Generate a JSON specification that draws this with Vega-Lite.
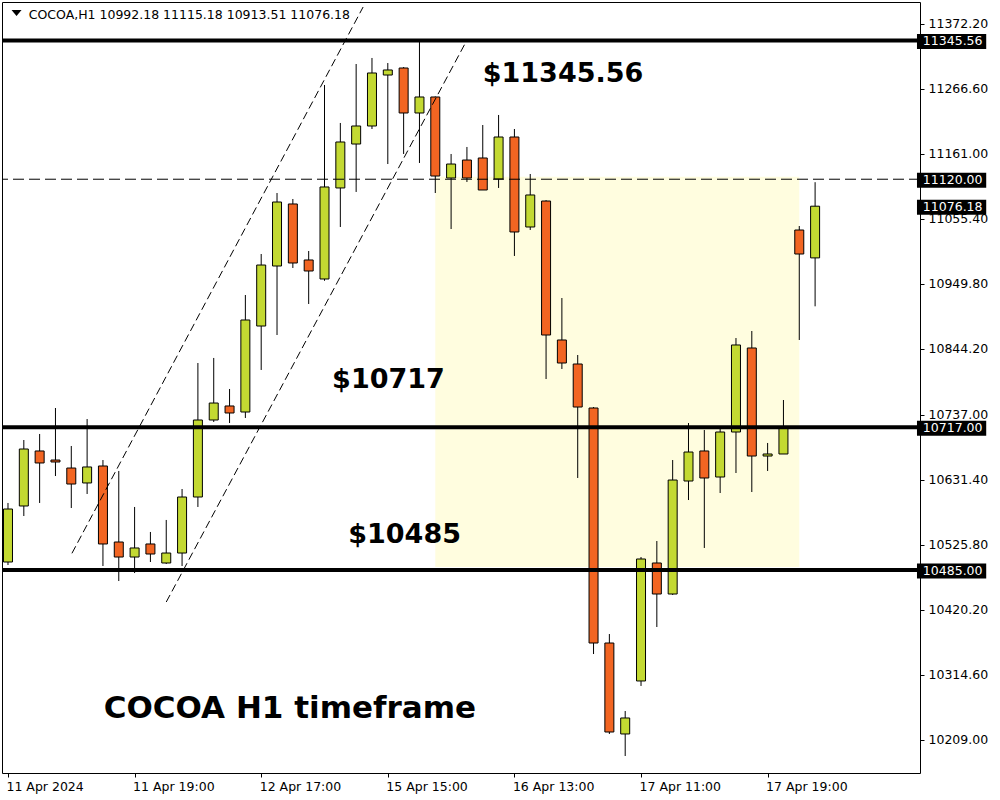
{
  "$schema": "https://vega.github.io/schema/vega-lite/v6.json",
  "autosize": {"type": "none"},
  "width": 918,
  "height": 771,
  "padding": {"left": 2, "top": 2, "right": 80, "bottom": 27},
  "background": "white",
  "config": {
    "view": {"stroke": "black", "strokeWidth": 1},
    "font": "DejaVu Sans"
  },
  "datasets": {
    "bars": [
      {"i":0,"o":10498.1,"h":10594.0,"l":10493.2,"c":10584.2},
      {"i":1,"o":10589.1,"h":10696.3,"l":10572.8,"c":10681.7},
      {"i":2,"o":10678.5,"h":10706.1,"l":10594.0,"c":10659.0},
      {"i":3,"o":10663.8,"h":10748.3,"l":10637.8,"c":10660.6},
      {"i":4,"o":10650.8,"h":10686.6,"l":10585.8,"c":10624.8},
      {"i":5,"o":10626.5,"h":10730.4,"l":10608.6,"c":10652.5},
      {"i":6,"o":10654.1,"h":10663.8,"l":10491.6,"c":10527.4},
      {"i":7,"o":10530.6,"h":10646.0,"l":10467.2,"c":10506.2},
      {"i":8,"o":10506.2,"h":10587.5,"l":10480.2,"c":10520.9},
      {"i":9,"o":10527.4,"h":10546.9,"l":10498.1,"c":10511.1},
      {"i":10,"o":10496.5,"h":10566.4,"l":10494.9,"c":10512.7},
      {"i":11,"o":10512.7,"h":10616.7,"l":10491.6,"c":10603.7},
      {"i":12,"o":10603.7,"h":10821.4,"l":10587.5,"c":10728.8},
      {"i":13,"o":10728.8,"h":10829.6,"l":10725.6,"c":10756.4},
      {"i":14,"o":10751.6,"h":10779.2,"l":10723.9,"c":10740.2},
      {"i":15,"o":10741.8,"h":10931.9,"l":10732.1,"c":10891.3},
      {"i":16,"o":10881.5,"h":10998.5,"l":10810.1,"c":10980.6},
      {"i":17,"o":10979.0,"h":11097.6,"l":10866.9,"c":11083.0},
      {"i":18,"o":11079.8,"h":11087.9,"l":10975.8,"c":10983.9},
      {"i":19,"o":10988.8,"h":11003.4,"l":10917.3,"c":10970.9},
      {"i":20,"o":10957.9,"h":11273.1,"l":10955.0,"c":11107.4},
      {"i":21,"o":11105.8,"h":11211.4,"l":11042.4,"c":11180.5},
      {"i":22,"o":11177.2,"h":11307.2,"l":11099.3,"c":11206.5},
      {"i":23,"o":11206.5,"h":11317.0,"l":11201.6,"c":11292.6},
      {"i":24,"o":11289.3,"h":11308.8,"l":11144.7,"c":11297.5},
      {"i":25,"o":11300.7,"h":11302.3,"l":11161.0,"c":11227.6},
      {"i":26,"o":11227.6,"h":11345.56,"l":11146.4,"c":11253.6},
      {"i":27,"o":11253.6,"h":11254.5,"l":11097.6,"c":11125.2},
      {"i":28,"o":11122.0,"h":11161.0,"l":11039.1,"c":11144.7},
      {"i":29,"o":11151.2,"h":11172.4,"l":11115.5,"c":11122.0},
      {"i":30,"o":11154.5,"h":11208.1,"l":11102.5,"c":11102.5},
      {"i":31,"o":11120.4,"h":11224.4,"l":11105.8,"c":11188.6},
      {"i":32,"o":11188.6,"h":11201.6,"l":10995.3,"c":11034.3},
      {"i":33,"o":11042.4,"h":11128.5,"l":11037.5,"c":11094.4},
      {"i":34,"o":11084.6,"h":11086.0,"l":10795.4,"c":10866.9},
      {"i":35,"o":10858.8,"h":10927.0,"l":10811.7,"c":10821.4},
      {"i":36,"o":10819.8,"h":10834.4,"l":10634.6,"c":10749.9},
      {"i":37,"o":10748.3,"h":10749.9,"l":10348.6,"c":10366.5},
      {"i":38,"o":10366.5,"h":10381.1,"l":10218.7,"c":10221.9},
      {"i":39,"o":10218.7,"h":10256.0,"l":10182.9,"c":10244.7},
      {"i":40,"o":10304.8,"h":10506.2,"l":10296.7,"c":10503.0},
      {"i":41,"o":10496.5,"h":10532.2,"l":10392.5,"c":10446.1},
      {"i":42,"o":10446.1,"h":10663.8,"l":10444.5,"c":10631.3},
      {"i":43,"o":10629.7,"h":10723.9,"l":10598.8,"c":10676.8},
      {"i":44,"o":10678.5,"h":10712.6,"l":10520.9,"c":10634.6},
      {"i":45,"o":10636.2,"h":10715.8,"l":10610.2,"c":10709.3},
      {"i":46,"o":10709.3,"h":10862.0,"l":10642.7,"c":10850.7},
      {"i":47,"o":10845.8,"h":10873.4,"l":10611.8,"c":10670.3},
      {"i":48,"o":10670.3,"h":10691.5,"l":10646.0,"c":10673.6},
      {"i":49,"o":10673.6,"h":10761.3,"l":10673.6,"c":10715.8},
      {"i":50,"o":11037.5,"h":11044.0,"l":10858.8,"c":10998.5},
      {"i":51,"o":10992.18,"h":11115.18,"l":10913.51,"c":11076.18}
    ],
    "zone": [{"i0": 27, "i1": 50, "v0": 11124, "v1": 10490}],
    "chan": [
      {"ch": "a", "i": 4.04, "v": 10512.2},
      {"ch": "a", "i": 22.44, "v": 11399.8},
      {"ch": "b", "i": 10.0, "v": 10433.1},
      {"ch": "b", "i": 28.98, "v": 11345.1}
    ],
    "thick": [{"p": 11345.56}, {"p": 10717}, {"p": 10485}],
    "dashed": [{"p": 11120}],
    "ann": [
      {"label": "$11345.56", "i": 30.0, "v": 11278},
      {"label": "$10717", "i": 20.48, "v": 10780.8},
      {"label": "$10485", "i": 21.5, "v": 10529}
    ],
    "title": [{"label": "COCOA H1 timeframe", "i": 6.05, "v": 10244.7}],
    "header": [{"label": "COCOA,H1  10992.18 11115.18 10913.51 11076.18", "i": 1.31, "v": 11380.3}],
    "marker": [{"i": 0.54, "v": 11390.07}],
    "tags": [{"p": 11345.56}, {"p": 11120}, {"p": 11076.18}, {"p": 10717}, {"p": 10485}]
  },
  "layer": [
    {
      "data": {"name": "zone"},
      "mark": {"type": "rect", "color": "#FFFDDF"},
      "encoding": {
        "x": {"field": "i0", "type": "quantitative", "title": null,
          "scale": {"domain": [-0.0625, 57.3125], "nice": false, "zero": false},
          "axis": {
            "values": [0, 8, 16, 24, 32, 40, 48],
            "labelExpr": "['11 Apr 2024','11 Apr 19:00','12 Apr 17:00','15 Apr 15:00','16 Apr 13:00','17 Apr 11:00','17 Apr 19:00'][round(datum.value/8)]",
            "title": null, "domain": false, "grid": false,
            "tickSize": 4, "tickColor": "black", "tickWidth": 1,
            "labelAlign": "left", "labelBaseline": "top", "labelFlush": false, "labelOverlap": false,
            "labelPadding": 3, "labelOffset": -2, "labelFont": "DejaVu Sans", "labelFontSize": 12.5, "labelColor": "black"
          }
        },
        "x2": {"field": "i1"},
        "y": {"field": "v0", "type": "quantitative", "title": null,
          "scale": {"domain": [10155.3, 11407.94], "nice": false, "zero": false},
          "axis": {
            "orient": "right",
            "values": [11372.2, 11266.6, 11161, 11055.4, 10949.8, 10844.2, 10737, 10631.4, 10525.8, 10420.2, 10314.6, 10209],
            "format": ".2f",
            "title": null, "domain": false, "grid": false,
            "tickSize": 4, "tickColor": "black", "tickWidth": 1,
            "labelAlign": "left", "labelBaseline": "middle", "labelFlush": false, "labelOverlap": false,
            "labelPadding": 4, "labelFont": "DejaVu Sans", "labelFontSize": 12.5, "labelColor": "black"
          }
        },
        "y2": {"field": "v1"}
      }
    },
    {
      "data": {"name": "bars"},
      "mark": {"type": "rule", "color": "black", "strokeWidth": 1},
      "encoding": {
        "x": {"field": "i", "type": "quantitative", "title": null},
        "y": {"field": "l", "type": "quantitative", "title": null},
        "y2": {"field": "h"}
      }
    },
    {
      "data": {"name": "bars"},
      "mark": {"type": "bar", "width": 9, "stroke": "black", "strokeWidth": 1},
      "encoding": {
        "x": {"field": "i", "type": "quantitative", "title": null},
        "y": {"field": "o", "type": "quantitative", "title": null},
        "y2": {"field": "c"},
        "color": {"condition": {"test": "datum.c >= datum.o", "value": "#C3D932"}, "value": "#F26522"}
      }
    },
    {
      "data": {"name": "chan"},
      "mark": {"type": "line", "color": "black", "strokeWidth": 1, "strokeDash": [8, 4]},
      "encoding": {
        "x": {"field": "i", "type": "quantitative", "title": null},
        "y": {"field": "v", "type": "quantitative", "title": null},
        "detail": {"field": "ch"}
      }
    },
    {
      "data": {"name": "dashed"},
      "mark": {"type": "rule", "color": "black", "strokeWidth": 1, "strokeDash": [11, 5]},
      "encoding": {
        "y": {"field": "p", "type": "quantitative", "title": null}
      }
    },
    {
      "data": {"name": "thick"},
      "mark": {"type": "rule", "color": "black", "strokeWidth": 4},
      "encoding": {
        "y": {"field": "p", "type": "quantitative", "title": null}
      }
    },
    {
      "data": {"name": "ann"},
      "mark": {"type": "text", "font": "DejaVu Sans", "fontWeight": "bold", "fontSize": 27, "align": "left", "baseline": "alphabetic", "color": "black"},
      "encoding": {
        "x": {"field": "i", "type": "quantitative", "title": null},
        "y": {"field": "v", "type": "quantitative", "title": null},
        "text": {"field": "label"}
      }
    },
    {
      "data": {"name": "title"},
      "mark": {"type": "text", "font": "DejaVu Sans", "fontWeight": "bold", "fontSize": 31, "align": "left", "baseline": "alphabetic", "color": "black"},
      "encoding": {
        "x": {"field": "i", "type": "quantitative", "title": null},
        "y": {"field": "v", "type": "quantitative", "title": null},
        "text": {"field": "label"}
      }
    },
    {
      "data": {"name": "header"},
      "mark": {"type": "text", "font": "DejaVu Sans", "fontSize": 12.5, "align": "left", "baseline": "alphabetic", "color": "black"},
      "encoding": {
        "x": {"field": "i", "type": "quantitative", "title": null},
        "y": {"field": "v", "type": "quantitative", "title": null},
        "text": {"field": "label"}
      }
    },
    {
      "data": {"name": "marker"},
      "mark": {"type": "point", "shape": "M-1,-0.6L1,-0.6L0,0.6Z", "filled": true, "color": "black", "size": 100, "opacity": 1},
      "encoding": {
        "x": {"field": "i", "type": "quantitative", "title": null},
        "y": {"field": "v", "type": "quantitative", "title": null}
      }
    },
    {
      "data": {"name": "tags"},
      "mark": {"type": "rule", "color": "black", "strokeWidth": 15, "strokeCap": "butt", "clip": false, "yOffset": 1},
      "encoding": {
        "x": {"datum": 57.4375, "type": "quantitative", "title": null},
        "x2": {"datum": 61.8125},
        "y": {"field": "p", "type": "quantitative", "title": null}
      }
    },
    {
      "data": {"name": "tags"},
      "mark": {"type": "text", "font": "DejaVu Sans", "fontSize": 12.5, "align": "left", "baseline": "middle", "color": "white", "clip": false, "yOffset": 1},
      "encoding": {
        "x": {"datum": 57.81, "type": "quantitative", "title": null},
        "y": {"field": "p", "type": "quantitative", "title": null},
        "text": {"field": "p", "type": "quantitative", "format": ".2f"}
      }
    }
  ]
}
